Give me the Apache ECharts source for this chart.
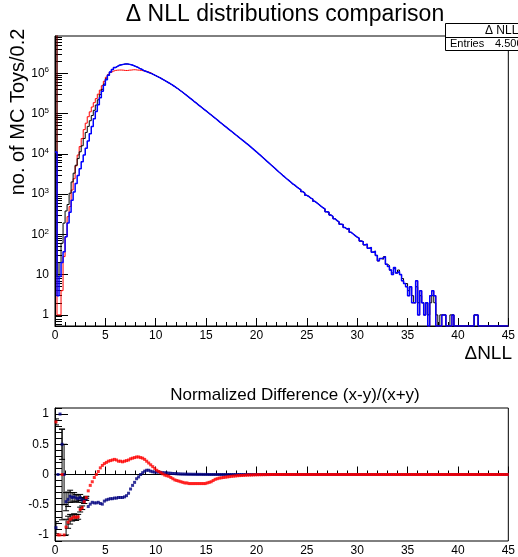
<!DOCTYPE html>
<html>
<head>
<meta charset="utf-8">
<script src="https://cdn.jsdelivr.net/npm/echarts@6/dist/echarts.min.js"></script>
<style>
    html, body { margin: 0; padding: 0; background: #fff; }
    #chart { width: 518px; height: 557px; }
</style>
</head>
<body>
<div id="chart"></div>
<script>
// bin width 0.2, 225 bins from 0 to 45
const BIN = 0.2;
const X_MAX = 45;
const Y_MIN = 0.53, Y_MAX = 8.4e6;   // log axis range of the top pad

// blue histogram, all 225 bins
const blueCounts = [
    11000, 3, 9, 20, 37, 87, 190, 355, 700, 1120,
    1820, 2880, 4270, 6310, 9330, 13800, 20900, 31600, 47900, 74100,
    112000, 166000, 245000, 355000, 501000, 692000, 891000, 1070000, 1230000, 1380000,
    1480000, 1580000, 1620000, 1660000, 1700000, 1700000, 1660000, 1620000, 1550000, 1480000,
    1410000, 1320000, 1260000, 1170000, 1120000, 1070000, 1020000, 977000, 923000, 871000,
    822000, 776000, 728000, 682000, 640000, 597000, 557000, 519000, 482000, 447000,
    412000, 378000, 347000, 318000, 291000, 265000, 242000, 221000, 201000, 184000,
    167000, 153000, 139000, 127000, 116000, 106000, 96400, 87900, 80200, 73100,
    66400, 60300, 55000, 50100, 45700, 41700, 38000, 34700, 31600, 28800,
    26300, 24000, 21900, 20000, 18200, 16600, 15100, 13600, 12300, 11200,
    10100, 9120, 8220, 7410, 6680, 6030, 5430, 4900, 4420, 3980,
    3590, 3240, 2920, 2660, 2400, 2190, 1990, 1790, 1660, 1510,
    1380, 1290, 1150, 1050, 930, 871, 794, 745, 661, 603,
    550, 501, 457, 430, 365, 352, 302, 275, 245, 219,
    205, 178, 175, 148, 135, 140, 112, 102, 93, 85,
    80, 68, 66, 55, 57, 45, 47, 36, 38, 30,
    22, 25, 26, 28, 18, 16, 13, 10, 15, 11,
    12, 10, 7, 6, 5, 3, 5, 2, 2, 7,
    1, 4, 2, 1, 2, 0, 3, 4, 3, 0,
    0, 0, 1, 1, 0, 0, 0, 1, 0, 0,
    0, 0, 0, 0, 0, 0, 0, 0, 1, 1,
    0, 0, 0, 0, 0, 0, 0, 0, 0, 0,
    0, 0, 0, 0, 0
];
// red histogram, bins 0-47 (same as blue afterwards)
const redLow = [
    20000000, 1, 1, 4, 28, 87, 275, 490, 1260, 2400,
    5010, 9330, 15100, 24000, 39800, 57500, 83200, 110000, 145000, 186000,
    234000, 302000, 380000, 490000, 631000, 794000, 933000, 1050000, 1120000, 1170000,
    1190000, 1200000, 1200000, 1190000, 1170000, 1170000, 1190000, 1200000, 1220000, 1220000,
    1200000, 1190000, 1170000, 1150000, 1120000, 1100000, 1050000, 1000000
];
// black histogram, bins 0-26 and bins 160-199 (same as blue elsewhere)
const blackLow = [
    10000000, 9, 20, 60, 190, 380, 550, 1050, 2000, 3300,
    5200, 7600, 11200, 15800, 24000, 33900, 47900, 66100, 89100, 120000,
    162000, 219000, 295000, 398000, 537000, 724000, 891000
];
const BLACK_TAIL_START = 160;
const blackTail = [
    22, 25, 24, 28, 18, 17, 13, 11, 14, 11,
    13, 10, 8, 6, 6, 4, 5, 3, 2, 5,
    2, 3, 2, 1, 2, 1, 2, 3, 2, 1,
    0, 1, 1, 1, 0, 0, 1, 1, 0, 0
];

// normalized difference, per bin
const redDiff = [
    0.87, -1, -1, 0, -1, -0.87, -0.79, -0.74, -0.72, -0.70,
    -0.71, -0.70, -0.58, -0.55, -0.45, -0.38, -0.27, -0.18, -0.12, -0.05,
    0, 0.05, 0.11, 0.15, 0.18, 0.20, 0.22, 0.23, 0.24, 0.25,
    0.24, 0.22, 0.22, 0.21, 0.22, 0.23, 0.24, 0.26, 0.27, 0.28,
    0.29, 0.29, 0.28, 0.27, 0.25, 0.22, 0.19, 0.16, 0.13, 0.10,
    0.07, 0.05, 0.03, 0.01, -0.01, -0.02, -0.03, -0.05, -0.07, -0.09,
    -0.10, -0.11, -0.12, -0.13, -0.14, -0.14, -0.15, -0.15, -0.15, -0.15,
    -0.15, -0.15, -0.15, -0.15, -0.15, -0.14, -0.13, -0.12, -0.10, -0.08,
    -0.07, -0.06, -0.055, -0.05, -0.045, -0.04, -0.035, -0.03, -0.027, -0.024,
    -0.02, -0.018, -0.016, -0.014, -0.012, -0.01, -0.009, -0.008, -0.006, -0.005,
    -0.004, -0.003, -0.003, -0.002, -0.002, -0.001, -0.001, 0, 0, 0,
    0, 0, 0, 0, 0, 0, 0, 0, 0, 0,
    0, 0, 0, 0, 0, 0, 0, 0, 0, 0,
    0, 0, 0, 0, 0, 0, 0, 0, 0, 0,
    0, 0, 0, 0, 0, 0, 0, 0, 0, 0,
    0, 0, 0, 0, 0, 0, 0, 0, 0, 0,
    0, 0, 0, 0, 0, 0, 0, 0, 0, 0,
    0, 0, 0, 0, 0, 0, 0, 0, 0, 0,
    0, 0, 0, 0, 0, 0, 0, 0, 0, 0,
    0, 0, 0, 0, 0, 0, 0, 0, 0, 0,
    0, 0, 0, 0, 0, 0, 0, 0, 0, 0,
    0, 0, 0, 0, 0, 0, 0, 0, 0, 0,
    0, 0, 0, 0, 0
];
const navyDiff = [
    -0.88, 0, 1, 0.5, 0, -0.45, -0.41, -0.36, -0.38, -0.37,
    -0.39, -0.40, -0.38, -0.42, -0.44, -0.40, -0.53, -0.49, -0.46, -0.47,
    -0.47, -0.46, -0.48, -0.49, -0.44, -0.42, -0.41, -0.40, -0.40, -0.39,
    -0.39, -0.38, -0.38, -0.38, -0.37, -0.35, -0.31, -0.24, -0.18, -0.13,
    -0.07, -0.04, 0, 0.03, 0.055, 0.07, 0.07, 0.055, 0.045, 0.04,
    0.04, 0.04, 0.035, 0.03, 0.028, 0.025, 0.022, 0.02, 0.017, 0.015,
    0.012, 0.01, 0.008, 0.007, 0.006, 0.005, 0.004, 0.004, 0.003, 0.003,
    0.002, 0.002, 0.002, 0.001, 0.001, 0.001, 0, 0, 0, 0,
    0, 0, 0, 0, 0, 0, 0, 0, 0, 0,
    0, 0, 0, 0, 0, 0, 0, 0, 0, 0,
    0, 0, 0, 0, 0, 0, 0, 0, 0, 0,
    0, 0, 0, 0, 0, 0, 0, 0, 0, 0,
    0, 0, 0, 0, 0, 0, 0, 0, 0, 0,
    0, 0, 0, 0, 0, 0, 0, 0, 0, 0,
    0, 0, 0, 0, 0, 0, 0, 0, 0, 0,
    0, 0, 0, 0, 0, 0, 0, 0, 0, 0,
    0, 0, 0, 0, 0, 0, 0, 0, 0, 0,
    0, 0, 0, 0, 0, 0, 0, 0, 0, 0,
    0, 0, 0, 0, 0, 0, 0, 0, 0, 0,
    0, 0, 0, 0, 0, 0, 0, 0, 0, 0,
    0, 0, 0, 0, 0, 0, 0, 0, 0, 0,
    0, 0, 0, 0, 0, 0, 0, 0, 0, 0,
    0, 0, 0, 0, 0
];
// error bars of the first bins (rest are too small to see)
const redErr = [0.05, 0, 0, 0.75, 0, 0.13, 0.1, 0.08, 0.05, 0.05, 0.05, 0.04, 0.04, 0.03, 0.03, 0.02];
const navyErr = [0.1, 0, 0, 0.25, 0.5, 0.15, 0.12, 0.1, 0.08, 0.07, 0.06, 0.06, 0.05, 0.04, 0.04, 0.03];

const logMajorTicks = [1, 10, 100, 1000, 10000, 100000, 1000000];
const diffMajorTicks = [-1, -0.5, 0, 0.5, 1];

if (blueCounts.length !== 225 || redDiff.length !== 225 || navyDiff.length !== 225) {
    throw new Error('bad length ' + blueCounts.length + ' ' + redDiff.length + ' ' + navyDiff.length);
}

const FONT = 'Liberation Sans, Arial, Helvetica, sans-serif';

/* full histograms from the pieces */
var redCounts = blueCounts.map((c, i) => i < redLow.length ? redLow[i] : c);
var blackCounts = blueCounts.map((c, i) => {
    if (i < blackLow.length) return blackLow[i];
    var j = i - BLACK_TAIL_START;
    if (j >= 0 && j < blackTail.length) return blackTail[j];
    return c;
});

/* step outline: left edge of every bin, empty bins sit on the bottom of the frame */
function stepData(counts) {
    var d = counts.map((c, i) => [+(i * BIN).toFixed(1), c > 0 ? c : Y_MIN]);
    d.push([X_MAX, d[d.length - 1][1]]);
    return d;
}
function pointData(vals) {
    return vals.map((v, i) => [+(i * BIN + BIN / 2).toFixed(2), v]);
}
function errData(vals, errs) {
    var out = [];
    errs.forEach((e, i) => {
        if (e > 0) out.push([+(i * BIN + BIN / 2).toFixed(2), vals[i], e]);
    });
    return out;
}

/* minor ticks: 2..9 x 10^n on the log axis, 0.1 steps on the difference axis */
var logMinorTicks = [0.6, 0.7, 0.8, 0.9];
for (var p = 1; p <= 1e6; p *= 10) {
    for (var k = 2; k <= 9; k++) {
        if (k * p <= Y_MAX) logMinorTicks.push(k * p);
    }
}
var diffMinorTicks = [];
for (var m = -11; m <= 11; m++) {
    if (m % 5 !== 0) diffMinorTicks.push(m / 10);
}

function supLabel(v) {
    var e = Math.round(Math.log10(v));
    if (e === 0) return '1';
    if (e === 1) return '10';
    return '10{sup|' + e + '}';
}

var axisLineBlack = { show: true, lineStyle: { color: '#000', width: 1 } };
var labelStyle = { color: '#000', fontSize: 12, fontFamily: FONT };

function xAxisFor(grid) {
    return {
        type: 'value', gridIndex: grid, min: 0, max: X_MAX, interval: 5,
        axisLine: axisLineBlack,
        axisTick: { show: true, inside: true, length: 8, lineStyle: { color: '#000' } },
        minorTick: { show: true, splitNumber: 5, length: 4, lineStyle: { color: '#000' } },
        axisLabel: Object.assign({ margin: 4 }, labelStyle),
        splitLine: { show: false }
    };
}

var errorBarItem = function (params, api) {
    var x = api.value(0), y = api.value(1), e = api.value(2);
    var top = api.coord([x, y + e]);
    var bot = api.coord([x, y - e]);
    var cap = 3;
    return {
        type: 'group',
        children: [
            { type: 'line', shape: { x1: top[0], y1: top[1], x2: bot[0], y2: bot[1] }, style: { stroke: '#000', lineWidth: 1 } },
            { type: 'line', shape: { x1: top[0] - cap, y1: top[1], x2: top[0] + cap, y2: top[1] }, style: { stroke: '#000', lineWidth: 1 } },
            { type: 'line', shape: { x1: bot[0] - cap, y1: bot[1], x2: bot[0] + cap, y2: bot[1] }, style: { stroke: '#000', lineWidth: 1 } }
        ]
    };
};

var chart = echarts.init(document.getElementById('chart'), null, { renderer: 'canvas' });
chart.setOption({
    animation: false,
    backgroundColor: '#fff',
    textStyle: { fontFamily: FONT },
    grid: [
        { left: 55, right: 5, top: 36, bottom: 231, show: true, borderColor: '#000', borderWidth: 1 },
        { left: 55, right: 5, top: 408, bottom: 16, show: true, borderColor: '#000', borderWidth: 1 }
    ],
    xAxis: [xAxisFor(0), xAxisFor(1)],
    yAxis: [
        {
            type: 'log', logBase: 10, gridIndex: 0, position: 'left', min: Y_MIN, max: Y_MAX,
            axisLine: axisLineBlack,
            axisTick: { show: true, inside: true, length: 13, customValues: logMajorTicks, lineStyle: { color: '#000' } },
            axisLabel: Object.assign({
                margin: 6, customValues: logMajorTicks, formatter: supLabel,
                rich: { sup: { fontSize: 8, fontFamily: FONT, color: '#000', verticalAlign: 'top', padding: [0, 0, 6, 0] } }
            }, labelStyle),
            splitLine: { show: false }
        },
        {
            type: 'log', logBase: 10, gridIndex: 0, position: 'left', min: Y_MIN, max: Y_MAX,
            axisLine: { show: false },
            axisTick: { show: true, inside: true, length: 7, customValues: logMinorTicks, lineStyle: { color: '#000' } },
            axisLabel: { show: false },
            splitLine: { show: false }
        },
        {
            type: 'value', gridIndex: 1, position: 'left', min: -1.1, max: 1.1,
            axisLine: axisLineBlack,
            axisTick: { show: true, inside: true, length: 13, customValues: diffMajorTicks, lineStyle: { color: '#000' } },
            axisLabel: Object.assign({ margin: 6, customValues: diffMajorTicks, formatter: v => String(v) }, labelStyle),
            splitLine: { show: false }
        },
        {
            type: 'value', gridIndex: 1, position: 'left', min: -1.1, max: 1.1,
            axisLine: { show: false },
            axisTick: { show: true, inside: true, length: 7, customValues: diffMinorTicks, lineStyle: { color: '#000' } },
            axisLabel: { show: false },
            splitLine: { show: false }
        }
    ],
    series: [
        {
            name: 'red', type: 'line', step: 'end', xAxisIndex: 0, yAxisIndex: 0,
            data: stepData(redCounts), showSymbol: false, clip: true,
            lineStyle: { color: '#ff0000', width: 1 }
        },
        {
            name: 'black', type: 'line', step: 'end', xAxisIndex: 0, yAxisIndex: 0,
            data: stepData(blackCounts), showSymbol: false, clip: true,
            lineStyle: { color: '#000', width: 1 }
        },
        {
            name: 'blue', type: 'line', step: 'end', xAxisIndex: 0, yAxisIndex: 0,
            data: stepData(blueCounts), showSymbol: false, clip: true,
            lineStyle: { color: '#0000ff', width: 1.5 }
        },
        {
            type: 'custom', xAxisIndex: 1, yAxisIndex: 2, renderItem: errorBarItem,
            data: errData(navyDiff, navyErr).concat(errData(redDiff, redErr)),
            encode: { x: 0, y: 1 }, clip: true, z: 3
        },
        {
            name: 'navy diff', type: 'scatter', xAxisIndex: 1, yAxisIndex: 2,
            data: pointData(navyDiff), symbol: 'rect', symbolSize: 3,
            itemStyle: { color: '#000080' }, z: 4
        },
        {
            name: 'red diff', type: 'scatter', xAxisIndex: 1, yAxisIndex: 2,
            data: pointData(redDiff), symbol: 'rect', symbolSize: 3,
            itemStyle: { color: '#ff0000' }, z: 5
        }
    ],
    graphic: [
        { type: 'text', x: 285, y: 15, style: { text: '\u0394 NLL distributions comparison', font: '23px ' + FONT, fill: '#000', textAlign: 'center', textVerticalAlign: 'middle' } },
        { type: 'text', x: 18, y: 112, rotation: Math.PI / 2, style: { text: 'no. of MC Toys/0.2', font: '20px ' + FONT, fill: '#000', textAlign: 'center', textVerticalAlign: 'middle' } },
        { type: 'text', x: 512, y: 354, style: { text: '\u0394NLL', font: '19px ' + FONT, fill: '#000', textAlign: 'right', textVerticalAlign: 'middle' } },
        { type: 'text', x: 295, y: 395, style: { text: 'Normalized Difference (x-y)/(x+y)', font: '17px ' + FONT, fill: '#000', textAlign: 'center', textVerticalAlign: 'middle' } },
        /* stats box, cut by the right edge like the original */
        { type: 'rect', shape: { x: 445.5, y: 23.5, width: 150, height: 27 }, style: { fill: '#fff', stroke: '#000', lineWidth: 1 }, z: 10 },
        { type: 'line', shape: { x1: 445.5, y1: 37.5, x2: 600, y2: 37.5 }, style: { stroke: '#000', lineWidth: 1 }, z: 11 },
        { type: 'text', x: 485, y: 30.5, style: { text: '\u0394 NLL', font: '12px ' + FONT, fill: '#000', textAlign: 'left', textVerticalAlign: 'middle' }, z: 11 },
        { type: 'text', x: 450, y: 44, style: { text: 'Entries', font: '11px ' + FONT, fill: '#000', textAlign: 'left', textVerticalAlign: 'middle' }, z: 11 },
        { type: 'text', x: 495, y: 44, style: { text: '4.500000e+07', font: '11px ' + FONT, fill: '#000', textAlign: 'left', textVerticalAlign: 'middle' }, z: 11 }
    ]
});
</script>
</body>
</html>
